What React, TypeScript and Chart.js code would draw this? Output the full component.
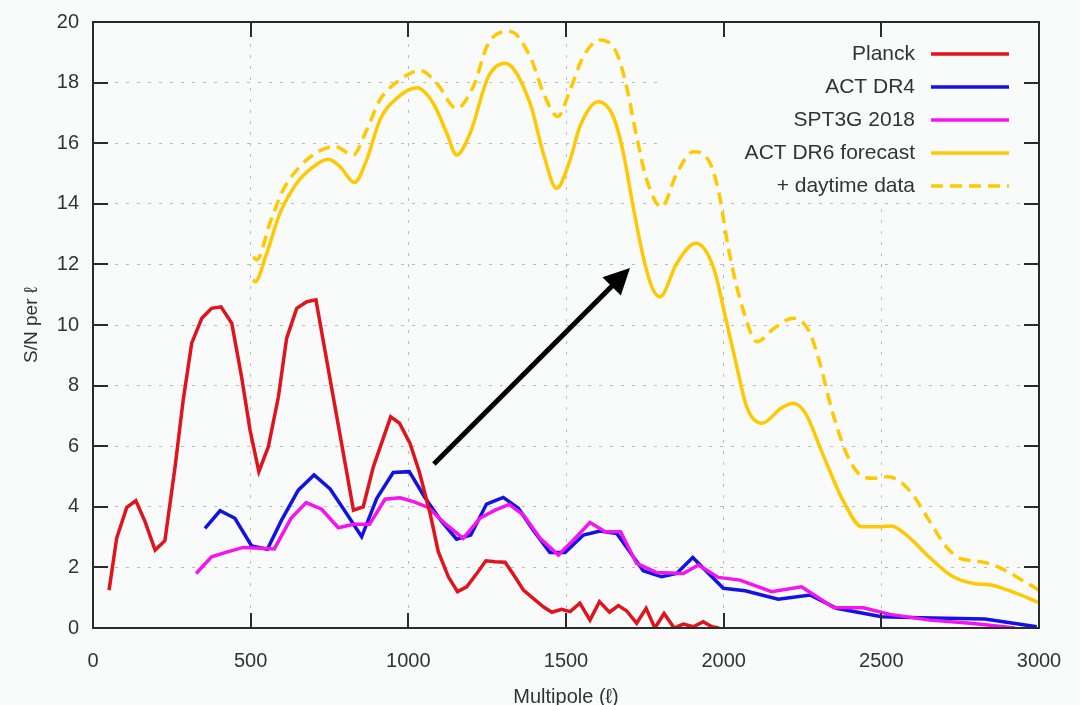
import React, { useEffect, useRef } from "react";
import { Chart, registerables } from "chart.js";

Chart.register(...registerables);

// ---------------- data ----------------
const planckL = [51, 75, 107, 136, 165, 197, 228, 260, 286, 313, 345, 376, 406, 440, 471, 498, 526, 556, 588, 614, 646, 678, 707, 826, 857, 889, 944, 972, 1005, 1035, 1069, 1095, 1127, 1156, 1185, 1217, 1246, 1275, 1307, 1338, 1365, 1396, 1428, 1455, 1486, 1513, 1544, 1576, 1606, 1638, 1666, 1692, 1724, 1754, 1782, 1811, 1843, 1872, 1904, 1935, 1963, 1985];
const planckSN = [1.25, 2.96, 3.98, 4.2, 3.51, 2.57, 2.88, 5.3, 7.52, 9.4, 10.22, 10.55, 10.6, 10.06, 8.3, 6.53, 5.16, 5.98, 7.63, 9.56, 10.55, 10.77, 10.83, 3.89, 4.0, 5.32, 6.97, 6.76, 6.1, 5.15, 3.78, 2.52, 1.69, 1.2, 1.36, 1.8, 2.22, 2.19, 2.17, 1.69, 1.25, 0.98, 0.7, 0.52, 0.62, 0.54, 0.82, 0.26, 0.87, 0.52, 0.74, 0.57, 0.16, 0.65, 0.0, 0.48, 0.0, 0.13, 0.04, 0.21, 0.04, 0.0];

const actL = [355, 403, 450, 503, 553, 598, 651, 701, 752, 804, 852, 900, 952, 1003, 1053, 1103, 1153, 1198, 1248, 1301, 1349, 1396, 1449, 1497, 1555, 1608, 1661, 1745, 1803, 1851, 1902, 1999, 2068, 2173, 2274, 2358, 2501, 2623, 2829, 2993];
const actSN = [3.29, 3.87, 3.62, 2.71, 2.6, 3.56, 4.55, 5.05, 4.59, 3.78, 3.01, 4.28, 5.13, 5.16, 4.3, 3.55, 2.93, 3.07, 4.09, 4.31, 3.95, 3.23, 2.49, 2.49, 3.07, 3.2, 3.12, 1.89, 1.69, 1.8, 2.33, 1.31, 1.23, 0.95, 1.09, 0.65, 0.37, 0.34, 0.3, 0.04];

const sptL = [327, 376, 429, 477, 530, 575, 628, 676, 725, 778, 826, 877, 926, 974, 1016, 1063, 1116, 1174, 1227, 1275, 1320, 1365, 1418, 1476, 1523, 1576, 1624, 1673, 1724, 1788, 1872, 1920, 1983, 2052, 2152, 2247, 2348, 2443, 2527, 2654, 2792, 2924];
const sptSN = [1.8, 2.35, 2.52, 2.66, 2.63, 2.61, 3.62, 4.14, 3.92, 3.31, 3.42, 3.42, 4.25, 4.3, 4.17, 3.98, 3.45, 2.96, 3.62, 3.89, 4.08, 3.73, 2.96, 2.41, 2.9, 3.48, 3.18, 3.18, 2.13, 1.83, 1.8, 2.08, 1.67, 1.58, 1.2, 1.36, 0.68, 0.67, 0.45, 0.26, 0.15, 0.0];

const dr6L = [508, 514, 551, 593, 646, 699, 746, 783, 829, 868, 910, 963, 1027, 1079, 1122, 1153, 1196, 1254, 1307, 1386, 1428, 1470, 1513, 1544, 1602, 1650, 1682, 1713, 1745, 1772, 1798, 1851, 1912, 1967, 2007, 2040, 2073, 2122, 2182, 2220, 2259, 2313, 2378, 2439, 2499, 2531, 2586, 2651, 2728, 2793, 2848, 2914, 3000];
const dr6SN = [11.49, 11.43, 12.37, 13.69, 14.68, 15.23, 15.47, 15.23, 14.7, 15.45, 16.77, 17.48, 17.83, 17.32, 16.33, 15.61, 16.33, 18.2, 18.64, 17.32, 15.67, 14.51, 15.45, 16.55, 17.37, 16.88, 15.67, 13.9, 12.25, 11.26, 10.93, 12.03, 12.7, 11.92, 10.2, 8.7, 7.3, 6.76, 7.25, 7.42, 7.09, 5.77, 4.22, 3.34, 3.34, 3.37, 3.01, 2.35, 1.69, 1.47, 1.42, 1.2, 0.84];

const dayL = [508, 519, 561, 603, 656, 714, 767, 825, 868, 910, 973, 1037, 1090, 1153, 1206, 1254, 1322, 1386, 1433, 1474, 1513, 1555, 1608, 1661, 1692, 1724, 1756, 1803, 1851, 1904, 1957, 1985, 2018, 2062, 2106, 2160, 2220, 2269, 2302, 2346, 2389, 2433, 2477, 2520, 2553, 2597, 2651, 2706, 2750, 2815, 2870, 2946, 3000];
const daySN = [12.25, 12.15, 13.36, 14.46, 15.23, 15.72, 15.89, 15.61, 16.44, 17.43, 18.09, 18.4, 17.98, 17.15, 17.87, 19.3, 19.69, 18.86, 17.54, 16.88, 17.76, 18.86, 19.41, 18.97, 17.87, 16.22, 14.79, 13.9, 15.0, 15.72, 15.34, 14.35, 12.37, 10.49, 9.45, 9.89, 10.22, 9.83, 8.85, 7.09, 5.77, 5.05, 4.94, 4.99, 4.88, 4.44, 3.56, 2.68, 2.3, 2.19, 2.02, 1.58, 1.25];

const seriesLabels = ["Planck", "ACT DR4", "SPT3G 2018", "ACT DR6 forecast", "+ daytime data"];

// arrow annotation (data coordinates)
const arrowFrom = { l: 1081, sn: 5.41 };
const arrowTo = { l: 1703, sn: 11.88 };

const X_MIN = 0, X_MAX = 3000, X_STEP = 500;
const Y_MIN = 0, Y_MAX = 20, Y_STEP = 2;

// ---------------- styles ----------------
const FONT = '"Liberation Sans", Arial, Helvetica, sans-serif';
const BG = "#f8fbfa";
const TEXT = "#333333";
const FRAME = "#2b2b2b";
const colors = ["#e0141c", "#1212e2", "#f514f0", "#ffc800", "#ffc800"];

const pts = (xs: number[], ys: number[]) => xs.map((x, i) => ({ x, y: ys[i] }));

const bgPlugin = {
  id: "bgFill",
  beforeDraw(chart: any) {
    const ctx = chart.ctx;
    ctx.save();
    ctx.fillStyle = BG;
    ctx.fillRect(0, 0, chart.width, chart.height);
    ctx.restore();
  },
};

const legendBoxPlugin = {
  id: "legendBox",
  beforeDatasetsDraw(chart: any) {
    const { right, top } = chart.chartArea;
    const ctx = chart.ctx;
    ctx.save();
    ctx.fillStyle = BG;
    ctx.fillRect(right - 374, top + 1, 373, 180);
    ctx.restore();
  },
};

const framePlugin = {
  id: "frameTicks",
  afterDatasetsDraw(chart: any) {
    const ctx = chart.ctx;
    const { left, right, top, bottom } = chart.chartArea;
    const xs = chart.scales.x;
    const ys = chart.scales.y;
    const TL = 15;
    ctx.save();
    // arrow
    const x0 = xs.getPixelForValue(arrowFrom.l);
    const y0 = ys.getPixelForValue(arrowFrom.sn);
    const x1 = xs.getPixelForValue(arrowTo.l);
    const y1 = ys.getPixelForValue(arrowTo.sn);
    const ang = Math.atan2(y1 - y0, x1 - x0);
    const hl = 26, hw = 13;
    const bx = x1 - hl * Math.cos(ang);
    const by = y1 - hl * Math.sin(ang);
    ctx.strokeStyle = "#000";
    ctx.fillStyle = "#000";
    ctx.lineWidth = 5;
    ctx.beginPath();
    ctx.moveTo(x0, y0);
    ctx.lineTo(bx + 2 * Math.cos(ang), by + 2 * Math.sin(ang));
    ctx.stroke();
    ctx.beginPath();
    ctx.moveTo(x1, y1);
    ctx.lineTo(bx + hw * Math.sin(ang), by - hw * Math.cos(ang));
    ctx.lineTo(bx - hw * Math.sin(ang), by + hw * Math.cos(ang));
    ctx.closePath();
    ctx.fill();

    // ticks (inward, mirrored)
    ctx.strokeStyle = FRAME;
    ctx.lineWidth = 2;
    ctx.beginPath();
    xs.ticks.forEach((t: any) => {
      if (t.value <= X_MIN || t.value >= X_MAX) return;
      const px = Math.round(xs.getPixelForValue(t.value));
      ctx.moveTo(px, bottom);
      ctx.lineTo(px, bottom - TL);
      ctx.moveTo(px, top);
      ctx.lineTo(px, top + TL);
    });
    ys.ticks.forEach((t: any) => {
      if (t.value <= Y_MIN || t.value >= Y_MAX) return;
      const py = Math.round(ys.getPixelForValue(t.value));
      ctx.moveTo(left, py);
      ctx.lineTo(left + TL, py);
      ctx.moveTo(right, py);
      ctx.lineTo(right - TL, py);
    });
    ctx.stroke();
    ctx.strokeRect(left, top, right - left, bottom - top);
    ctx.restore();
  },
  afterDraw(chart: any) {
    const ctx = chart.ctx;
    const { right, top } = chart.chartArea;
    ctx.save();
    ctx.font = `21px ${FONT}`;
    ctx.textAlign = "right";
    ctx.textBaseline = "middle";
    chart.data.datasets.forEach((ds: any, i: number) => {
      const y = top + 32 + i * 33;
      ctx.fillStyle = TEXT;
      ctx.fillText(ds.label, right - 124, y);
      ctx.strokeStyle = ds.borderColor;
      ctx.lineWidth = 3.5;
      ctx.setLineDash(ds.borderDash || []);
      ctx.beginPath();
      ctx.moveTo(right - 108, y);
      ctx.lineTo(right - 30, y);
      ctx.stroke();
      ctx.setLineDash([]);
    });
    ctx.restore();
  },
};

export default function App() {
  const ref = useRef<HTMLCanvasElement | null>(null);

  useEffect(() => {
    if (!ref.current) return;
    Chart.defaults.font.family = FONT;
    const lineBase = { borderWidth: 3.5, pointRadius: 0, fill: false, tension: 0 };
    const chart = new Chart(ref.current, {
      type: "line",
      data: {
        datasets: [
          { ...lineBase, label: seriesLabels[0], data: pts(planckL, planckSN), borderColor: colors[0], order: 0 },
          { ...lineBase, label: seriesLabels[1], data: pts(actL, actSN), borderColor: colors[1], order: 2 },
          { ...lineBase, label: seriesLabels[2], data: pts(sptL, sptSN), borderColor: colors[2], order: 1 },
          { ...lineBase, label: seriesLabels[3], data: pts(dr6L, dr6SN), borderColor: colors[3], cubicInterpolationMode: "monotone", order: 3 },
          { ...lineBase, label: seriesLabels[4], data: pts(dayL, daySN), borderColor: colors[4], borderDash: [12, 7], cubicInterpolationMode: "monotone", order: 4 },
        ] as any,
      },
      options: {
        animation: false,
        responsive: false,
        events: [],
        layout: { padding: { top: 22, right: 41, left: 0, bottom: 0 } },
        plugins: { legend: { display: false }, tooltip: { enabled: false } },
        scales: {
          x: {
            type: "linear",
            min: X_MIN,
            max: X_MAX,
            ticks: {
              stepSize: X_STEP,
              color: TEXT,
              font: { size: 20, family: FONT },
              padding: 0,
              maxRotation: 0,
              callback: (v: any) => String(v),
            },
            grid: { color: "#bcbcbc", lineWidth: 1, drawTicks: true, tickLength: 21, tickColor: "rgba(0,0,0,0)" },
            border: { display: false, dash: [3, 8] },
            title: {
              display: true,
              text: "Multipole (ℓ)",
              color: TEXT,
              font: { size: 20, family: FONT, lineHeight: 0.8 },
              padding: { top: 0, bottom: 0 },
            },
            afterFit: (s: any) => {
              s.height = 77;
            },
          },
          y: {
            type: "linear",
            min: Y_MIN,
            max: Y_MAX,
            ticks: {
              stepSize: Y_STEP,
              color: TEXT,
              font: { size: 20, family: FONT },
              padding: 0,
              callback: (v: any) => String(v),
            },
            grid: { color: "#bcbcbc", lineWidth: 1, drawTicks: true, tickLength: 14, tickColor: "rgba(0,0,0,0)" },
            border: { display: false, dash: [3, 8] },
            title: {
              display: true,
              text: "S/N per ℓ",
              color: TEXT,
              font: { size: 19, family: FONT },
              padding: { top: 20, bottom: 0 },
            },
            afterFit: (s: any) => {
              s.width = 93;
            },
          },
        },
      } as any,
      plugins: [bgPlugin, legendBoxPlugin, framePlugin],
    });
    return () => chart.destroy();
  }, []);

  return (
    <div style={{ position: "absolute", left: 0, top: 0, width: 1080, height: 705, background: BG }}>
      <canvas ref={ref} width={1080} height={705} style={{ display: "block" }} />
    </div>
  );
}
